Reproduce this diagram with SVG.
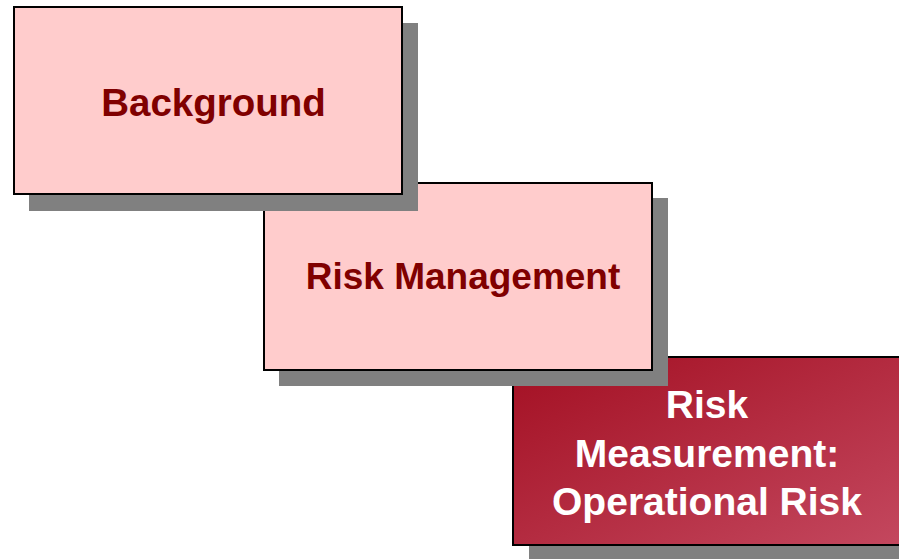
<svg xmlns="http://www.w3.org/2000/svg" width="899" height="559" viewBox="0 0 899 559">
  <style>
    .shadow { fill: #808080; }
    .box { stroke: #000000; stroke-width: 2; }
    .light { fill: #FFCCCC; }
    .label { font-family: "Liberation Sans", Arial, sans-serif; font-weight: bold; font-size: 37px; text-anchor: middle; }
    .dark { fill: #800000; }
    .white { fill: #FFFFFF; font-size: 39px; }
  </style>
  <defs>
    <linearGradient id="deepRed" x1="0" y1="0" x2="1" y2="1">
      <stop offset="0" stop-color="#A30F22"/>
      <stop offset="1" stop-color="#C4485F"/>
    </linearGradient>
  </defs>

  <!-- drawn back to front: the lowest step first -->
  <g id="node-operational-risk">
    <rect class="shadow" x="529" y="373" width="380" height="189"/>
    <rect class="box" x="513" y="357" width="395" height="188" fill="url(#deepRed)"/>
    <text class="label white" x="707" y="418">Risk</text>
    <text class="label white" x="707" y="467">Measurement:</text>
    <text class="label white" x="707" y="515">Operational Risk</text>
  </g>

  <g id="node-risk-management">
    <rect class="shadow" x="279" y="198" width="389" height="188"/>
    <rect class="box light" x="264" y="183" width="388" height="187"/>
    <text class="label dark" x="463" y="289">Risk Management</text>
  </g>

  <g id="node-background">
    <rect class="shadow" x="29" y="23" width="389" height="188"/>
    <rect class="box light" x="14" y="7" width="388" height="187"/>
    <text class="label dark" x="213.5" y="116" style="font-size:38.5px">Background</text>
  </g>

  <g id="connectors"></g>
</svg>
